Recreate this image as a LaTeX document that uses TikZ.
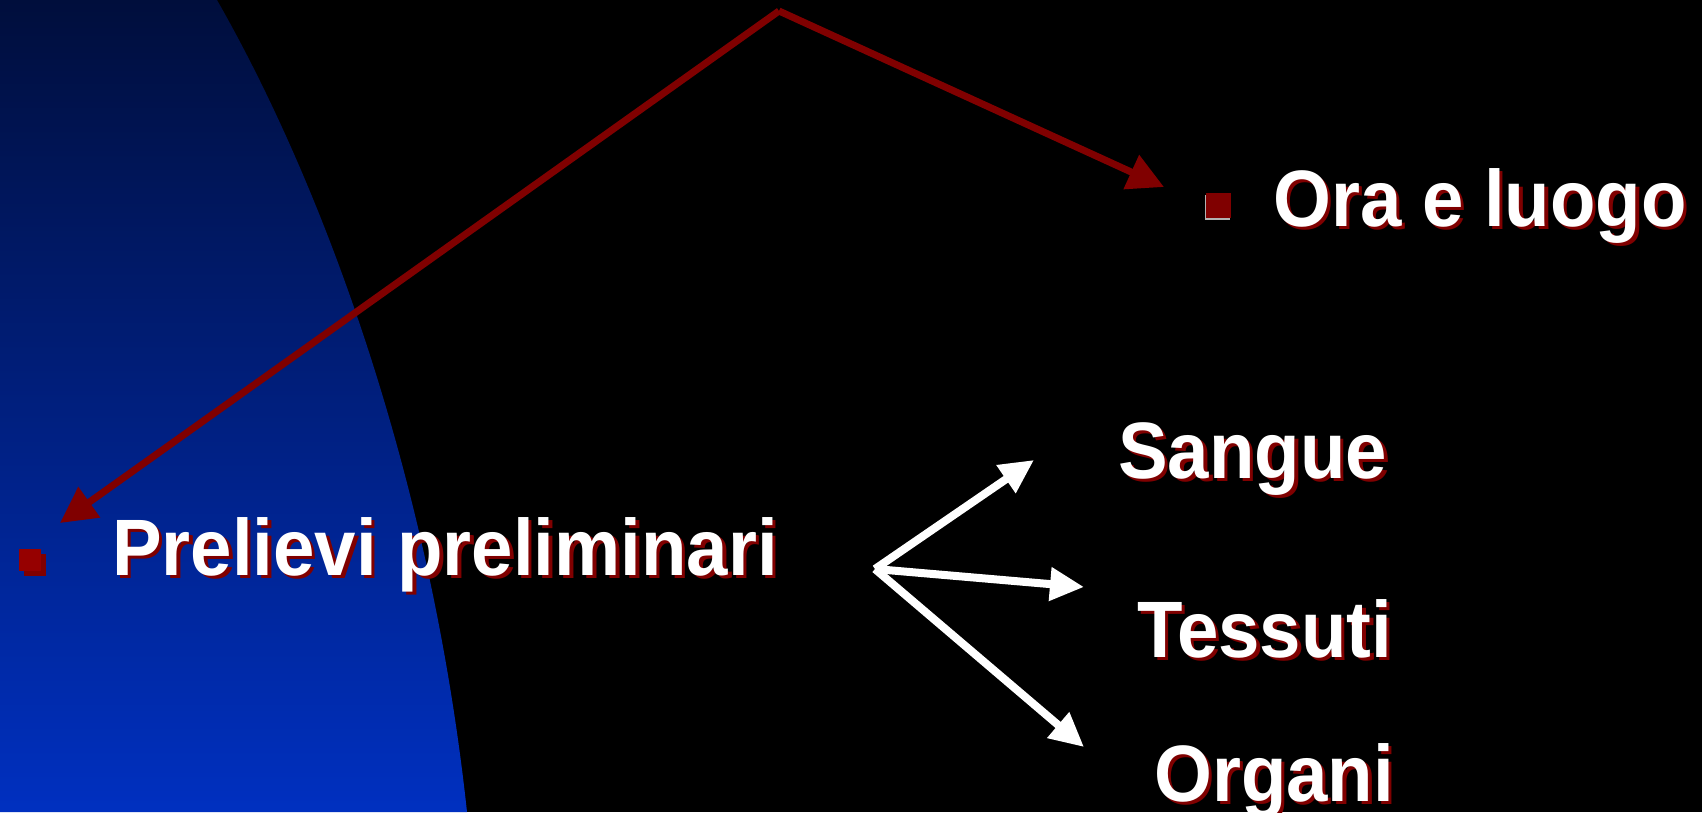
\documentclass[tikz,border=0pt]{standalone}
\usepackage{fontspec}
\newfontfamily\lblfont{Liberation Sans}[FakeStretch=0.93,BoldFeatures={FakeStretch=0.93}]
\usetikzlibrary{arrows.meta}
\definecolor{darkred}{RGB}{128,0,0}
\definecolor{bulletred}{RGB}{150,0,0}
\definecolor{navytop}{RGB}{0,14,60}
\definecolor{bluebot}{RGB}{0,48,192}
\tikzset{
  lbl/.style={font=\lblfont\bfseries\fontsize{80}{96}\selectfont, text=white, inner sep=0pt, anchor=base west},
  lblshadow/.style={lbl, text=darkred, xshift=3.5pt, yshift=-3.5pt},
  redarrow/.style={draw=darkred, line width=7pt, -{Triangle[length=36pt,width=36pt]}},
  whitearrow/.style={draw=white, line width=8pt, -{Triangle[length=34pt,width=32pt]}},
  bulletbox/.style={fill=darkred, minimum size=25pt, inner sep=0pt, draw=none},
}
\newcommand\shadowlabel[3]{%
  \node[lblshadow] at #2 {#3};
  \node[lbl] (#1) at #2 {#3};}
\begin{document}
\begin{tikzpicture}[x=1pt,y=-1pt]
\useasboundingbox (0,0) rectangle (1702,812);
\fill[black] (0,0) rectangle (1702,812);
% blue curved panel
\shade[top color=navytop, bottom color=bluebot]
  (0,0) -- (217,0) .. controls (320,180) and (430,470) .. (467,812) -- (0,812) -- cycle;

% bullets
\fill[gray!60] (1204.5,194.5) rectangle (1229.5,219.5);
\node[bulletbox] (bulletOra) at (1218,205) {};
\node[bulletbox, fill=darkred, minimum size=22pt] (bulletPreShadow) at (35,565) {};
\node[bulletbox, fill=bulletred, minimum size=22pt] (bulletPre) at (30,560) {};

% labels
\shadowlabel{ora}{(1273,226)}{Ora e luogo}
\shadowlabel{prelievi}{(112,575)}{Prelievi preliminari}
\shadowlabel{sangue}{(1118,478)}{Sangue}
\shadowlabel{tessuti}{(1137,657)}{Tessuti}
\shadowlabel{organi}{(1154,801)}{Organi}

% red connectors
\coordinate (apex) at (779,11);
\coordinate (tipL) at (60,523);
\coordinate (tipR) at (1164,187);
\draw[redarrow] (apex) -- (tipL);
\draw[redarrow] (apex) -- (tipR);

% white connectors
\coordinate (fork) at (875,569);
\coordinate (toSangue) at (1034,460);
\coordinate (toTessuti) at (1084,587);
\coordinate (toOrgani) at (1084,747);
\draw[whitearrow] (fork) -- (toSangue);
\draw[whitearrow] (fork) -- (toTessuti);
\draw[whitearrow] (fork) -- (toOrgani);
\end{tikzpicture}
\end{document}
